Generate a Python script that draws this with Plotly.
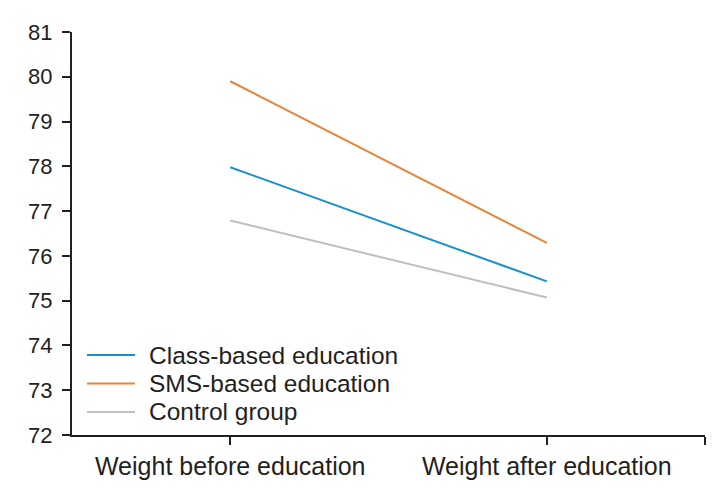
import plotly.graph_objects as go

categories = ["Weight before education", "Weight after education"]
class_based = [77.98, 75.43]
sms_based = [79.9, 76.29]
control = [76.79, 75.07]

series = [
    ("Class-based education", class_based, "#1a8fd0"),
    ("SMS-based education", sms_based, "#e8843a"),
    ("Control group", control, "#bfbfbf"),
]

family = "Liberation Sans, Arial, sans-serif"
ink = "#231f20"

fig = go.Figure()
xpos = list(range(len(categories)))
for name, vals, color in series:
    fig.add_trace(go.Scatter(
        x=xpos, y=vals, mode="lines", name=name,
        line=dict(color=color, width=2), showlegend=False,
    ))

# hand-made legend (tighter spacing than plotly's own)
legend_y = [0.1985, 0.1278, 0.0571]
for (name, _, color), ly in zip(series, legend_y):
    fig.add_shape(type="line", xref="x domain", yref="y domain",
                  x0=0.0237, x1=0.0995, y0=ly, y1=ly,
                  line=dict(color=color, width=2))
    fig.add_annotation(xref="x domain", yref="y domain", x=0.118, y=ly,
                       text=name, showarrow=False, xanchor="left", yanchor="middle",
                       font=dict(family=family, size=24.5, color=ink))

# page body has an 8px margin, so the figure is 16px smaller than the window
fig.update_layout(
    width=701, height=473,
    margin=dict(l=64, r=4, t=24, b=46),
    paper_bgcolor="white", plot_bgcolor="white",
    font=dict(family=family, size=24, color=ink),
    showlegend=False,
)

fig.update_xaxes(
    range=[-0.5, 1.5],
    tickvals=xpos + [1.5], ticktext=categories + [""],
    tickfont=dict(family=family, size=25, color=ink),
    showline=True, linecolor=ink, linewidth=2,
    ticks="outside", ticklen=8, tickwidth=2, tickcolor=ink,
    showgrid=False, zeroline=False, automargin=False,
)
fig.update_yaxes(
    range=[72, 81], dtick=1, tick0=72,
    tickfont=dict(family=family, size=22, color=ink),
    showline=True, linecolor=ink, linewidth=2,
    ticks="outside", ticklen=8, tickwidth=2, tickcolor=ink,
    ticklabelstandoff=5,
    showgrid=False, zeroline=False, automargin=False,
)

fig.write_html("out.html")
